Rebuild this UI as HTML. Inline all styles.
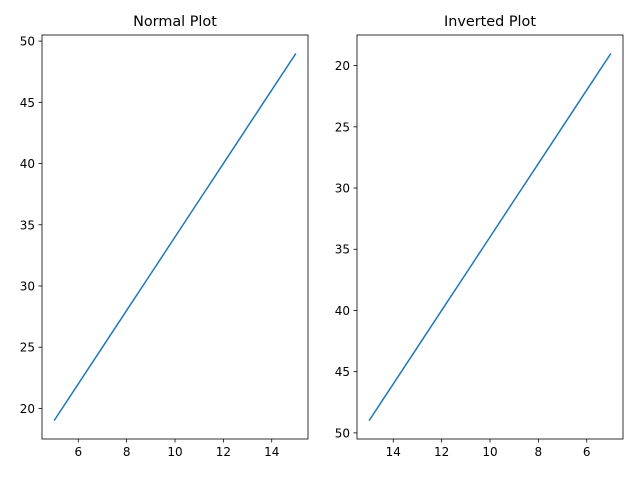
<!DOCTYPE html>
<html><head><meta charset="utf-8"><style>body{margin:0;background:#fff}svg{display:block;font-family:"DejaVu Sans","Liberation Sans",sans-serif}</style></head>
<body>
<svg id="c" width="640" height="478" viewBox="0 0 640 478"></svg>
<script>
const xValues = [5,6,7,8,9,10,11,12,13,14,15];
const yValues = [19,22,25,28,31,34,37,40,43,46,49];
const xTicks = [6,8,10,12,14];
const yTicks = [20,25,30,35,40,45,50];
const titles = ["Normal Plot","Inverted Plot"];
const svg = document.getElementById('c');
const NS = 'http://www.w3.org/2000/svg';
function mk(tag, attrs, parent){const e=document.createElementNS(NS,tag);for(const k in attrs)e.setAttribute(k,attrs[k]);parent.appendChild(e);return e;}
const panels = [{l:42,r:308,t:35,b:439,inv:false},{l:357,r:623,t:35,b:439,inv:true}];
const xmin=Math.min(...xValues),xmax=Math.max(...xValues),ymin=Math.min(...yValues),ymax=Math.max(...yValues);
const xlo=xmin-(xmax-xmin)*0.05,xhi=xmax+(xmax-xmin)*0.05,ylo=ymin-(ymax-ymin)*0.05,yhi=ymax+(ymax-ymin)*0.05;
panels.forEach((p,i)=>{
  const g=mk('g',{},svg);
  
  
  const sx=v=>p.inv? p.r-(v-xlo)/(xhi-xlo)*(p.r-p.l) : p.l+(v-xlo)/(xhi-xlo)*(p.r-p.l);
  const sy=v=>p.inv? p.t+(v-ylo)/(yhi-ylo)*(p.b-p.t) : p.b-(v-ylo)/(yhi-ylo)*(p.b-p.t);
  const pl=mk('polyline',{points:xValues.map((x,j)=>sx(x)+','+sy(yValues[j])).join(' '),fill:'none',stroke:'#1f77b4','stroke-width':1.5},g);
  
  
  const fr=mk('rect',{x:p.l,y:p.t,width:p.r-p.l,height:p.b-p.t,fill:'none',stroke:'#000','stroke-width':0.8},g);
  
  
  xTicks.forEach(t=>{const x=sx(t);mk('line',{x1:x,x2:x,y1:p.b,y2:p.b+3.5,stroke:'#000','stroke-width':0.8},g);
    const tx=mk('text',{x:x,y:p.b+17,'font-size':12,'text-anchor':'middle'},g);tx.textContent=t;
    
    });
  yTicks.forEach(t=>{const y=sy(t);mk('line',{x1:p.l-3.5,x2:p.l,y1:y,y2:y,stroke:'#000','stroke-width':0.8},g);
    const tx=mk('text',{x:p.l-7,y:y+4.5,'font-size':12,'text-anchor':'end'},g);tx.textContent=t;
    
    });
  const ti=mk('text',{x:(p.l+p.r)/2,y:p.t-9,'font-size':14.4,'text-anchor':'middle'},g);ti.textContent=titles[i];
  
  
});
</script>
</body></html>
